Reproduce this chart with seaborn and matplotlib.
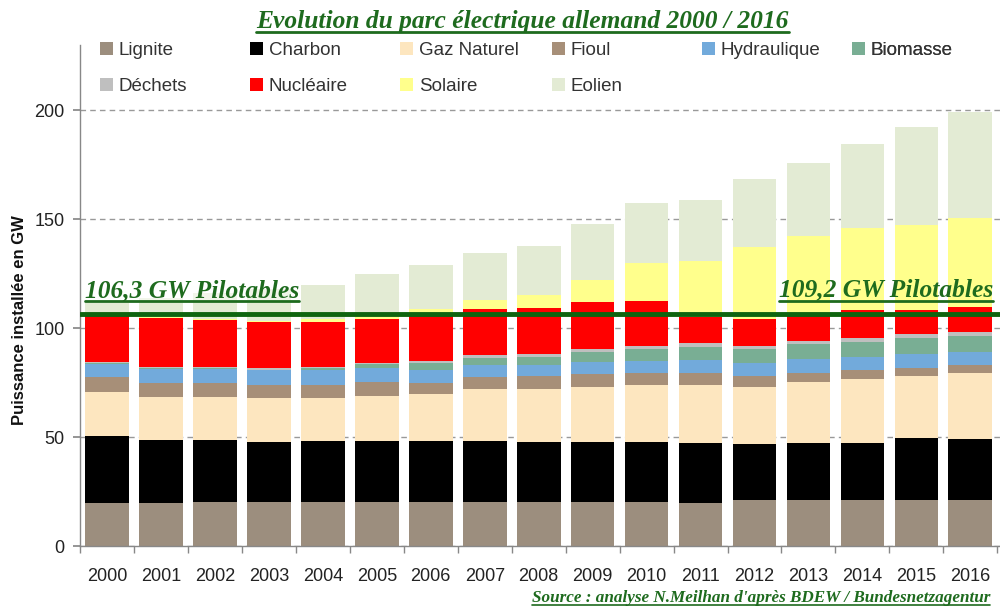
import numpy as np
import matplotlib
matplotlib.use("Agg")
import matplotlib.pyplot as plt
from matplotlib.patches import Patch
from matplotlib.lines import Line2D
import seaborn as sns

# -------------------------
# Data (GW installés)
# -------------------------
years = [str(y) for y in range(2000, 2017)]

lignite   = [19.7, 19.6, 20.0, 20.0, 20.3, 20.3, 20.3, 20.3, 20.3, 20.3, 20.3, 19.6, 21.1, 21.1, 21.1, 21.1, 21.1]
charbon   = [30.8, 29.0, 28.6, 27.9, 27.9, 27.9, 27.9, 27.9, 27.6, 27.6, 27.6, 27.5, 25.5, 26.3, 26.3, 28.6, 28.0]
gaz       = [20.3, 19.9, 19.9, 19.8, 19.5, 20.8, 21.4, 23.8, 24.0, 25.2, 26.0, 26.8, 26.5, 28.0, 29.1, 28.3, 30.1]
fioul     = [6.9, 6.1, 6.1, 6.2, 6.2, 6.4, 5.0, 5.7, 6.1, 5.7, 5.6, 5.3, 4.9, 3.8, 4.2, 3.5, 3.8]
hydro     = [5.6, 6.6, 6.6, 6.8, 6.8, 6.1, 6.1, 5.3, 5.0, 5.8, 5.5, 6.1, 5.8, 6.4, 6.1, 6.6, 6.1]
biomasse  = [0.5, 0.5, 0.5, 0.3, 0.9, 2.0, 3.1, 3.4, 3.8, 4.5, 5.2, 6.1, 6.4, 6.9, 6.9, 7.2, 7.2]
dechets   = [0.5, 0.6, 0.6, 0.5, 0.7, 0.6, 1.2, 1.2, 1.5, 1.3, 1.5, 1.6, 1.7, 1.7, 1.6, 1.9, 2.0]
nucleaire = [21.2, 22.4, 21.4, 21.4, 20.6, 20.3, 20.5, 21.1, 21.0, 21.4, 20.7, 12.2, 12.5, 11.8, 13.0, 11.1, 11.2]
solaire   = [0.1, 0.2, 0.3, 0.4, 1.1, 1.9, 3.2, 4.1, 5.8, 10.2, 17.6, 25.5, 32.9, 36.2, 37.7, 39.2, 41.1]
eolien    = [6.0, 8.7, 12.0, 14.6, 16.0, 18.5, 20.2, 21.5, 22.7, 25.6, 27.2, 28.3, 31.0, 33.6, 38.7, 44.6, 48.6]

sources = ["Lignite", "Charbon", "Gaz Naturel", "Fioul", "Hydraulique",
           "Biomasse", "Déchets", "Nucléaire", "Solaire", "Eolien"]
series = [lignite, charbon, gaz, fioul, hydro, biomasse, dechets, nucleaire, solaire, eolien]
colors = ["#9C8E7E", "#000000", "#FDE6BF", "#A78F78", "#72AADB",
          "#79AE94", "#BFBFBF", "#FF0000", "#FFFF8C", "#E3EBD4"]

pilotables_2000 = 106.3
pilotables_2016 = 109.2

GREEN = "#1E6B1E"

# -------------------------
# Figure
# -------------------------
sns.set_theme(style="white")
plt.rcParams["font.family"] = ["Liberation Sans", "DejaVu Sans"]

fig = plt.figure(figsize=(10, 6.06), dpi=100)
ax = fig.add_axes([0.08, 0.099, 0.92, 0.827])

bottom = np.zeros(len(years))
for name, vals, col in zip(sources, series, colors):
    sns.barplot(x=years, y=vals, color=col, saturation=1, width=0.81,
                bottom=bottom.copy(), linewidth=0, ax=ax)
    bottom += np.array(vals)

ax.set_xlim(-0.5, 16.55)
ax.set_ylim(0, 230)
ax.set_yticks([0, 50, 100, 150, 200])
ax.set_xticks(range(len(years)))
ax.set_xticklabels(years)
ax.set_xticks(np.arange(-0.5, len(years), 1), minor=True)

ax.tick_params(axis="x", which="major", bottom=True, length=0, labelsize=13, pad=16, labelcolor="#222")
ax.tick_params(axis="x", which="minor", bottom=True, length=5, color="#888", width=1)
ax.tick_params(axis="y", left=True, length=5, color="#888", labelsize=13, labelcolor="#222", pad=6)

ax.yaxis.grid(True, linestyle=(0, (4, 3)), color="#999999", linewidth=1)
ax.set_axisbelow(True)
for s in ["top", "right"]:
    ax.spines[s].set_visible(False)
for s in ["left", "bottom"]:
    ax.spines[s].set_color("#888")
    ax.spines[s].set_linewidth(1)

ax.set_ylabel("Puissance installée en GW", fontsize=12, fontweight="bold", color="#111")
ax.yaxis.set_label_coords(-0.058, 0.45)
ax.set_xlabel("")

# ligne des capacités pilotables
ax.axhline(pilotables_2000, color="#0F640F", linewidth=3.5, zorder=5)

serif = ["Liberation Serif", "DejaVu Serif"]
t1 = ax.text(-0.41, 114.3, "106,3 GW Pilotables", family=serif, fontsize=18.4,
             fontweight="bold", fontstyle="italic", color=GREEN, va="baseline", ha="left",
             zorder=6, bbox=dict(facecolor="white", alpha=0.5, edgecolor="none", pad=1))
t2 = ax.text(16.42, 114.4, "109,2 GW Pilotables", family=serif, fontsize=18.4,
             fontweight="bold", fontstyle="italic", color=GREEN, va="baseline", ha="right",
             zorder=6)

title = fig.text(0.5225, 0.954, "Evolution du parc électrique allemand 2000 / 2016",
                 family=serif, fontsize=18.4, fontweight="bold", fontstyle="italic",
                 color=GREEN, ha="center", va="baseline")
source = fig.text(0.99, 0.007, "Source : analyse N.Meilhan d'après BDEW / Bundesnetzagentur",
                  family=serif, fontsize=12.3, fontweight="bold", fontstyle="italic",
                  color=GREEN, ha="right", va="baseline")

# legende : une colonne par groupe pour garder l'espacement régulier
cols = [[0, 6], [1, 7], [2, 8], [3, 9], [4], [5]]
col_x = [0.0217, 0.185, 0.348, 0.513, 0.676, 0.839]
for idx, x in zip(cols, col_x):
    handles = [Patch(facecolor=colors[i], edgecolor="none", label=sources[i]) for i in idx]
    leg = ax.legend(handles=handles, loc="upper left", bbox_to_anchor=(x, 1.006),
                    frameon=False, fontsize=13.5, handlelength=0.7, handleheight=0.7,
                    handletextpad=0.3, labelspacing=1.0, borderpad=0, borderaxespad=0,
                    labelcolor="#333")
    ax.add_artist(leg)

# soulignement des textes verts
fig.canvas.draw()
renderer = fig.canvas.get_renderer()
W, H = fig.get_size_inches() * fig.dpi
for t, lw in [(t1, 2), (t2, 2), (title, 2), (source, 1.2)]:
    bb = t.get_window_extent(renderer)
    y = (bb.y0 + 1) / H
    fig.add_artist(Line2D([bb.x0 / W, bb.x1 / W], [y, y], color=GREEN,
                          linewidth=lw, transform=fig.transFigure, zorder=7))

fig.savefig("out.png", dpi=100)
